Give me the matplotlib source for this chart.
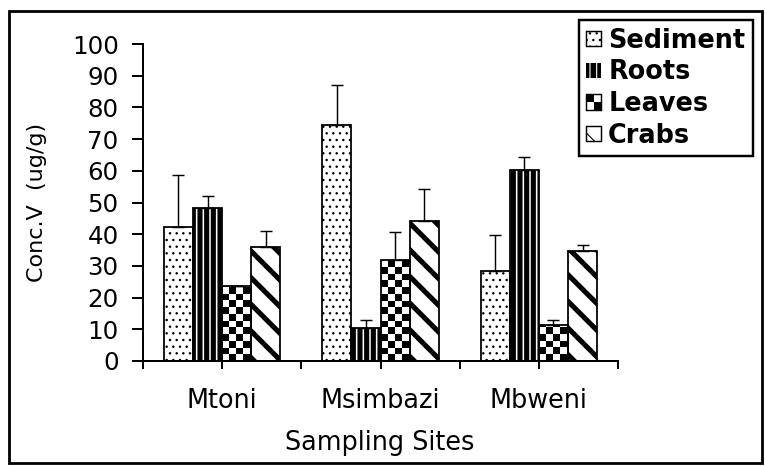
import matplotlib
matplotlib.use('Agg')
import matplotlib.pyplot as plt
import numpy as np
from matplotlib.patches import Rectangle
from matplotlib.legend_handler import HandlerBase

# Data
sites = ['Mtoni', 'Msimbazi', 'Mbweni']
series = ['Sediment', 'Roots', 'Leaves', 'Crabs']
sediment = [42.4, 74.4, 28.5]
roots = [48.4, 10.4, 60.1]
leaves = [23.7, 31.9, 11.4]
crabs = [36.1, 44.1, 34.6]
sediment_err = [16.4, 12.6, 11.4]
roots_err = [3.5, 2.6, 4.3]
leaves_err = [0.0, 8.7, 1.6]
crabs_err = [5.0, 10.3, 2.1]

values = [sediment, roots, leaves, crabs]
errors = [sediment_err, roots_err, leaves_err, crabs_err]

# fill styles: (face, hatch colour, hatch, hatch linewidth)
styles = [('white', 'black', '..', 1.0),
          ('black', 'white', '||', 1.4),
          ('white', 'black', None, 1.0),
          ('white', 'black', '\\', 4.6)]


class CheckerHandler(HandlerBase):
    # small checkerboard square for the legend
    def create_artists(self, legend, orig_handle, xdescent, ydescent,
                       width, height, fontsize, trans):
        arts = [Rectangle((-xdescent, -ydescent), width, height, facecolor='white',
                          edgecolor='black', lw=1.3, transform=trans)]
        n = 2
        for i in range(n):
            for j in range(n):
                if (i + j) % 2 == 1:
                    arts.append(Rectangle((-xdescent + i * width / n, -ydescent + j * height / n),
                                          width / n, height / n, facecolor='black',
                                          edgecolor='none', transform=trans))
        return arts


DPI = 80
fig = plt.figure(figsize=(765 / DPI, 466 / DPI), dpi=DPI)
ax = fig.add_axes([143 / 765, 1 - 361 / 466, 475 / 765, 317 / 466])

x = np.arange(len(sites))
w = 0.184
edge_lw = 1.6
handles = []
leaves_proxy = Rectangle((0, 0), 1, 1)

for i, (vals, err) in enumerate(zip(values, errors)):
    face, hcol, hatch, hlw = styles[i]
    pos = x + (i - 1.5) * w
    with plt.rc_context({'hatch.linewidth': hlw}):
        bars = ax.bar(pos, vals, w, facecolor=face, edgecolor=hcol, linewidth=0,
                      hatch=hatch, zorder=2)
    for b in bars:
        if hasattr(b, 'set_hatch_linewidth'):
            b.set_hatch_linewidth(hlw)
    if series[i] == 'Leaves':
        sq_w = w / 4.3
        sq_h = 2.1
        for b in bars:
            x0, h = b.get_x(), b.get_height()
            ncol = int(np.ceil(w / sq_w))
            nrow = int(np.ceil(h / sq_h))
            board = np.add.outer(np.arange(nrow), np.arange(ncol)) % 2
            im = ax.imshow(board, cmap='binary', extent=(x0, x0 + ncol * sq_w, 0, nrow * sq_h),
                           origin='lower', interpolation='nearest', aspect='auto', zorder=2.5)
            im.set_clip_path(b)
        handles.append(leaves_proxy)
    else:
        proxy = Rectangle((0, 0), 1, 1, facecolor=face, edgecolor=hcol, hatch=hatch,
                          linewidth=1.3 if face == 'white' else 0)
        if hasattr(proxy, 'set_hatch_linewidth'):
            proxy.set_hatch_linewidth(hlw)
        handles.append(proxy)
    # black outline on top of every bar
    for b in bars:
        ax.add_patch(Rectangle((b.get_x(), 0), w, b.get_height(), fill=False,
                               edgecolor='black', lw=edge_lw, zorder=3))
    ax.errorbar(pos, vals, yerr=[np.zeros(len(vals)), err], fmt='none', ecolor='black',
                elinewidth=1.3, capsize=5, capthick=1.3, zorder=4)

ax.set_xlim(-0.5, 2.5)
ax.set_ylim(0, 100)
ax.set_xticks(x)
ax.set_xticklabels(sites)
ax.set_xticks(np.arange(-0.5, 3, 1), minor=True)
ax.set_yticks(range(0, 101, 10))
ax.tick_params(axis='x', which='both', direction='out', length=7.2, width=1.8)
ax.tick_params(axis='x', which='major', labelsize=23, pad=17)
ax.tick_params(axis='y', direction='out', length=9.9, width=1.8, labelsize=22, pad=12)
for s in ['top', 'right']:
    ax.spines[s].set_visible(False)
for s in ['left', 'bottom']:
    ax.spines[s].set_linewidth(1.8)

leg = ax.legend(handles, series, loc='upper right', bbox_to_anchor=(753 / 765, 1 - 20 / 466),
                bbox_transform=fig.transFigure, borderaxespad=0, fancybox=False,
                edgecolor='black', framealpha=1, prop={'size': 23, 'weight': 'bold'},
                handlelength=0.55, handleheight=0.55, handletextpad=0.3,
                labelspacing=0.22, borderpad=0.3, handler_map={leaves_proxy: CheckerHandler()})
leg.get_frame().set_linewidth(2.2)

fig.text(380 / 765, 1 - 443 / 466, 'Sampling Sites', ha='center', va='center', fontsize=23)
fig.text(37 / 765, 1 - 202 / 466, 'Conc.V  (ug/g)', rotation=90, ha='center', va='center',
         fontsize=20)

fig.add_artist(Rectangle((9 / 765, 3 / 466), 753 / 765, 452 / 466, transform=fig.transFigure,
                         fill=False, edgecolor='black', lw=2.5))

fig.savefig('out.png', dpi=DPI)
